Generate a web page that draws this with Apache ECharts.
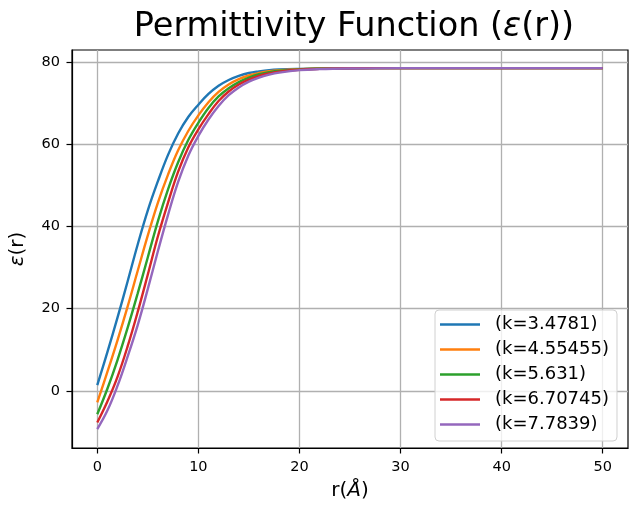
<!DOCTYPE html>
<html>
<head>
<meta charset="utf-8">
<script src="https://cdn.jsdelivr.net/npm/echarts@6/dist/echarts.min.js"></script>
<style>
  html, body { margin: 0; padding: 0; background: #fff; }
  #chart { width: 629px; height: 506px; }
</style>
</head>
<body>
<div id="chart"></div>
<script>
// r values (Å) the curves were read at
const rValues = [0, 1, 2, 3, 4, 5, 6, 7, 8, 9, 10, 11, 12, 13, 14, 15, 16, 17, 18, 20, 22, 25, 30, 35, 40, 45, 50];

// eps(r), one array per k
const epsK1 = [1.4, 9.4, 17.8, 26.6, 35.6, 43.9, 51.0, 57.4, 62.6, 66.6, 69.6, 72.2, 74.2, 75.6, 76.6, 77.3, 77.7, 78.0, 78.15, 78.3, 78.4, 78.45, 78.5, 78.5, 78.5, 78.5, 78.5];
const epsK2 = [-2.8, 4.6, 12.3, 20.5, 29.2, 37.8, 45.8, 52.6, 58.5, 63.2, 67.0, 70.2, 72.7, 74.5, 75.8, 76.7, 77.3, 77.75, 78.0, 78.25, 78.35, 78.45, 78.5, 78.5, 78.5, 78.5, 78.5];
const epsK3 = [-5.7, 0.5, 7.5, 15.3, 23.7, 32.5, 41.3, 49.0, 55.6, 61.0, 65.2, 68.8, 71.6, 73.6, 75.1, 76.2, 77.0, 77.5, 77.85, 78.2, 78.35, 78.45, 78.5, 78.5, 78.5, 78.5, 78.5];
const epsK4 = [-7.7, -2.6, 3.4, 10.8, 19.2, 28.3, 37.6, 45.8, 53.3, 59.2, 63.6, 67.3, 70.5, 72.8, 74.5, 75.7, 76.6, 77.2, 77.65, 78.1, 78.3, 78.45, 78.5, 78.5, 78.5, 78.5, 78.5];
const epsK5 = [-9.3, -4.8, 1.2, 8.3, 16.0, 24.8, 34.0, 42.8, 50.8, 57.2, 62.0, 66.0, 69.3, 71.9, 73.8, 75.2, 76.2, 76.9, 77.4, 78.0, 78.25, 78.4, 78.5, 78.5, 78.5, 78.5, 78.5];

const seriesNames = ['(k=3.4781)', '(k=4.55455)', '(k=5.631)', '(k=6.70745)', '(k=7.7839)'];
const seriesColors = ['#1f77b4', '#ff7f0e', '#2ca02c', '#d62728', '#9467bd'];

const xTicks = [0, 10, 20, 30, 40, 50];
const yTicks = [0, 20, 40, 60, 80];

const font = 'DejaVu Sans';
const chart = echarts.init(document.getElementById('chart'), null, { renderer: 'canvas' });

const allEps = [epsK1, epsK2, epsK3, epsK4, epsK5];
const series = allEps.map((vals, i) => ({
  name: seriesNames[i],
  type: 'line',
  symbol: 'none',
  smooth: 0.4,
  z: 10 + i,
  lineStyle: { color: seriesColors[i], width: 2.4 },
  itemStyle: { color: seriesColors[i] },
  data: rValues.map((r, j) => [r, vals[j]])
}));

chart.setOption({
  animation: false,
  backgroundColor: '#fff',
  title: {
    text: 'Permittivity Function ({e|ε}(r))',
    left: 349,
    textAlign: 'center',
    top: 5,
    textStyle: {
      fontFamily: font, fontSize: 33.5, fontWeight: 'normal', color: '#000',
      rich: { e: { fontFamily: font, fontSize: 33.5, fontStyle: 'italic', color: '#000' } }
    }
  },
  legend: {
    orient: 'vertical',
    left: 435,
    top: 310,
    icon: 'rect',
    itemWidth: 40,
    itemHeight: 2.4,
    itemGap: 4,
    padding: [4, 8, 6, 5],
    backgroundColor: 'rgba(255,255,255,0.8)',
    borderColor: '#d0d0d0',
    borderWidth: 1,
    borderRadius: 4,
    textStyle: { fontFamily: font, fontSize: 18, color: '#000', padding: [0, 0, 0, 10], lineHeight: 21 },
    data: seriesNames
  },
  grid: {
    left: 70, right: 1, top: 50, bottom: 57,
    show: true, borderColor: '#000', borderWidth: 1.2, backgroundColor: 'transparent'
  },
  xAxis: {
    type: 'value',
    min: -2.5, max: 52.5,
    name: 'r({a|Å})',
    nameLocation: 'middle',
    nameGap: 33,
    nameTextStyle: {
      fontFamily: font, fontSize: 20, color: '#000',
      rich: { a: { fontFamily: font, fontSize: 20, fontStyle: 'italic', color: '#000' } }
    },
    axisLine: { show: true, onZero: false, lineStyle: { color: '#000', width: 1.2 } },
    axisTick: { show: true, customValues: xTicks, length: 5.5, lineStyle: { color: '#000', width: 1.2 } },
    axisLabel: { customValues: xTicks, margin: 12, fontFamily: font, fontSize: 14.5, color: '#000' },
    splitLine: { show: true, lineStyle: { color: '#b0b0b0', width: 1.3 } }
  },
  yAxis: {
    type: 'value',
    min: -13.9, max: 82.9,
    name: '{e|ε}(r)',
    nameLocation: 'middle',
    nameGap: 44,
    nameRotate: 90,
    nameTextStyle: {
      fontFamily: font, fontSize: 20, color: '#000',
      rich: { e: { fontFamily: font, fontSize: 20, fontStyle: 'italic', color: '#000' } }
    },
    axisLine: { show: true, onZero: false, lineStyle: { color: '#000', width: 1.2 } },
    axisTick: { show: true, customValues: yTicks, length: 5.5, lineStyle: { color: '#000', width: 1.2 } },
    axisLabel: { customValues: yTicks, margin: 12, fontFamily: font, fontSize: 14.5, color: '#000' },
    splitLine: { show: true, lineStyle: { color: '#b0b0b0', width: 1.3 } }
  },
  series: series
});
</script>
</body>
</html>
